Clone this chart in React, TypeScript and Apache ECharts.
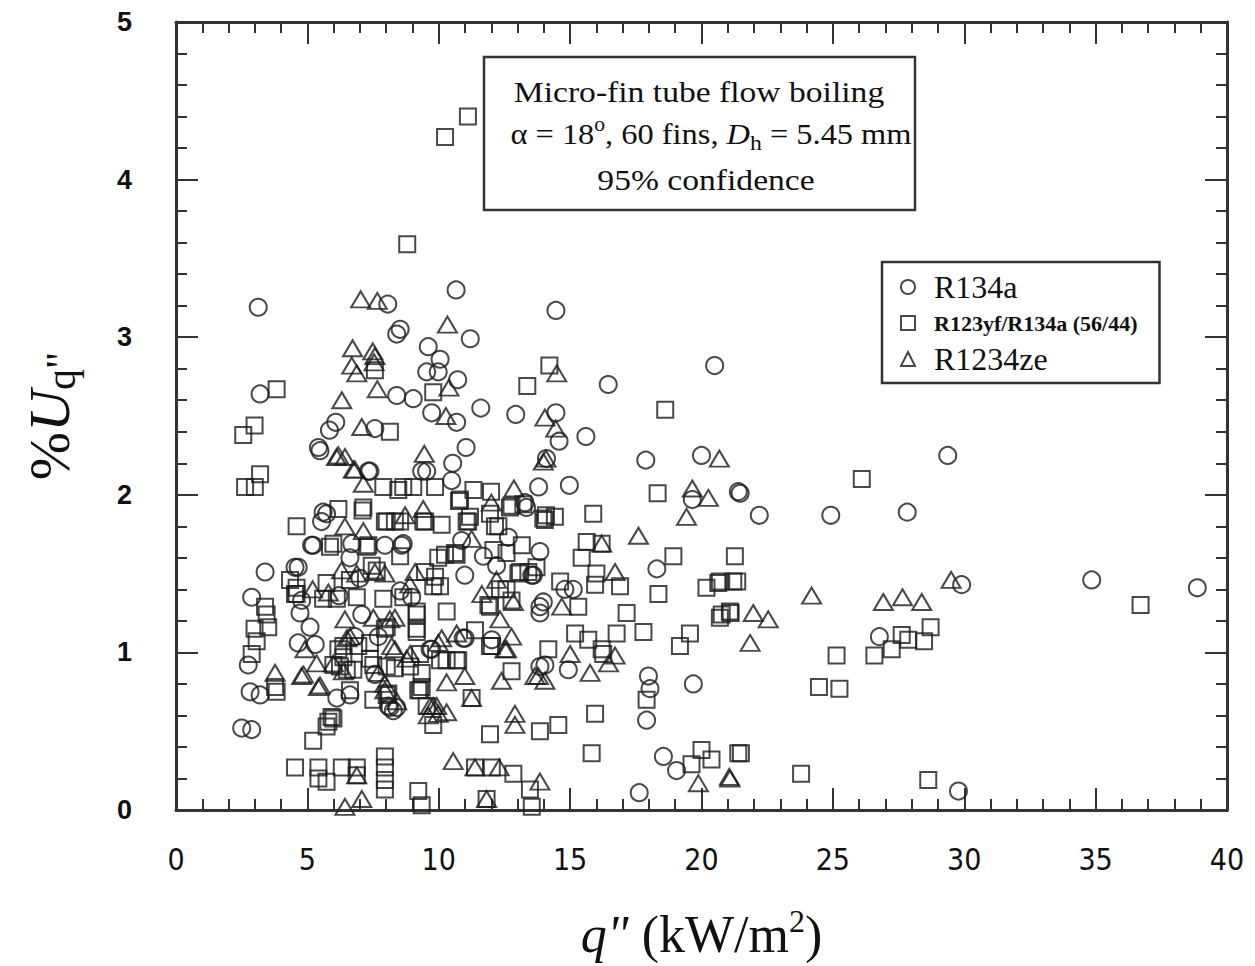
import React, { useEffect, useRef } from "react";
import * as echarts from "echarts";

const xTicks = [0, 5, 10, 15, 20, 25, 30, 35, 40];
const yTicks = [0, 1, 2, 3, 4, 5];

const seriesNames = ["R134a", "R123yf/R134a (56/44)", "R1234ze"];

const r134aPoints = [
  [3.13, 3.19], [3.2, 2.64], [3.39, 1.51], [2.88, 1.35], [2.75, 0.92], [2.82, 0.75], [3.2, 0.73], [2.5, 0.52], [2.88, 0.51],
  [8.06, 3.21], [8.4, 3.02], [8.53, 3.05], [10.66, 3.3], [11.2, 2.99], [14.46, 3.17], [20.5, 2.82], [16.45, 2.7], [11.6, 2.55],
  [12.93, 2.51], [14.46, 2.52], [14.58, 2.34], [15.6, 2.37], [10.72, 2.73], [10.05, 2.86], [10.68, 2.46], [11.04, 2.3],
  [10.53, 2.2], [10.49, 2.09], [13.8, 2.05], [14.97, 2.06], [14.1, 2.23], [17.88, 2.22], [20.0, 2.25], [21.4, 2.02],
  [19.65, 1.97], [13.28, 1.95], [9.6, 2.94], [9.54, 2.78], [9.98, 2.78], [8.4, 2.63], [9.03, 2.61], [9.73, 2.52],
  [6.08, 2.46], [5.84, 2.41], [7.57, 2.42], [5.48, 2.28], [5.42, 2.3], [7.38, 2.15], [9.54, 2.15], [5.73, 1.88],
  [5.6, 1.89], [5.54, 1.83], [5.22, 1.68], [6.69, 1.69], [8.65, 1.69], [4.65, 1.54], [4.72, 1.25], [5.1, 1.16],
  [4.65, 1.06], [4.78, 1.33], [6.12, 0.71], [6.62, 0.73], [6.81, 1.1], [8.14, 0.65], [8.4, 0.65], [9.73, 1.02],
  [8.97, 1.35], [7.07, 1.24], [8.53, 1.39], [7.95, 1.68], [8.59, 1.68], [6.62, 1.6], [9.35, 2.15], [7.57, 0.86],
  [8.08, 0.66], [8.27, 0.63], [18.3, 1.53], [17.98, 0.85], [18.04, 0.77], [17.91, 0.57], [19.69, 0.8], [18.55, 0.34],
  [19.05, 0.25], [17.63, 0.11], [14.93, 0.89], [14.04, 0.92], [13.85, 1.29], [13.98, 1.32], [14.8, 1.4], [15.12, 1.4],
  [13.85, 1.64], [13.6, 1.49], [11.7, 1.61], [10.99, 1.49], [11.0, 1.09], [12.02, 1.08], [12.65, 1.73], [10.87, 1.71],
  [12.2, 1.55], [13.54, 1.49], [13.85, 1.25], [10.93, 1.09], [9.67, 1.02], [13.85, 0.91], [13.34, 1.92], [29.37, 2.25],
  [21.47, 2.01], [22.2, 1.87], [24.92, 1.87], [27.83, 1.89], [29.9, 1.43], [34.85, 1.46], [38.87, 1.41], [26.77, 1.1],
  [29.78, 0.12], [7.32, 2.15], [5.16, 1.68], [4.53, 1.54], [7.0, 1.47], [6.2, 1.36], [5.3, 1.05], [7.7, 1.1],
];

const blendPoints = [
  [8.8, 3.59], [10.24, 4.27], [11.11, 4.4], [14.21, 2.82], [13.37, 2.69], [18.62, 2.54], [18.33, 2.01], [11.32, 2.03],
  [11.99, 2.02], [10.77, 1.96], [12.77, 1.93], [15.88, 1.88], [14.08, 1.87], [11.19, 1.86], [7.57, 2.79], [3.83, 2.67],
  [9.79, 2.65], [2.99, 2.44], [2.56, 2.38], [8.14, 2.4], [2.63, 2.05], [3.0, 2.05], [3.2, 2.13], [9.86, 2.05],
  [7.89, 2.05], [8.65, 2.05], [6.18, 1.91], [7.13, 1.92], [4.59, 1.8], [7.1, 1.9], [7.26, 1.67], [5.86, 1.67],
  [8.02, 1.83], [8.53, 1.83], [9.48, 1.83], [4.34, 1.46], [4.59, 1.37], [3.39, 1.29], [3.45, 1.24], [3.51, 1.16],
  [2.99, 1.15], [3.07, 1.07], [2.88, 0.99], [3.77, 0.78], [3.83, 0.75], [5.22, 0.44], [5.73, 0.53], [5.99, 0.58],
  [4.53, 0.27], [5.42, 0.27], [5.42, 0.2], [5.73, 0.18], [6.31, 0.27], [6.88, 0.27], [6.88, 0.22], [7.95, 0.34],
  [7.95, 0.27], [7.95, 0.19], [7.95, 0.13], [9.22, 0.12], [9.35, 0.03], [6.37, 0.97], [6.24, 0.91], [7.51, 0.92],
  [8.08, 0.74], [7.51, 0.7], [9.29, 0.76], [9.79, 0.54], [8.02, 0.91], [8.91, 0.91], [4.59, 1.41], [5.6, 1.34],
  [6.12, 1.34], [6.88, 1.35], [7.89, 1.34], [8.65, 1.35], [9.79, 1.42], [5.73, 1.44], [6.62, 1.46], [6.37, 1.04],
  [6.94, 1.04], [7.38, 1.06], [9.29, 0.99], [7.64, 1.52], [8.02, 1.16], [9.16, 1.15], [9.16, 1.24], [14.42, 1.86],
  [14.04, 1.84], [18.93, 1.61], [21.27, 1.61], [18.36, 1.37], [20.19, 1.41], [20.64, 1.44], [21.21, 1.45], [20.77, 1.24],
  [21.08, 1.26], [19.56, 1.12], [19.18, 1.04], [17.91, 0.7], [15.95, 0.61], [15.82, 0.36], [19.62, 0.29], [20.0, 0.38],
  [20.38, 0.32], [21.4, 0.36], [15.63, 1.7], [15.44, 1.6], [16.2, 1.69], [16.0, 1.5], [16.9, 1.42], [15.95, 1.43],
  [15.31, 1.29], [17.15, 1.25], [17.79, 1.13], [16.77, 1.12], [15.19, 1.12], [15.69, 1.08], [16.2, 1.02], [16.26, 0.99],
  [14.17, 1.02], [12.77, 0.88], [14.62, 1.45], [13.41, 1.51], [13.03, 1.5], [13.16, 1.68], [12.58, 1.63], [12.08, 1.65],
  [12.14, 1.8], [11.12, 1.83], [10.62, 1.63], [11.95, 1.29], [12.58, 1.4], [12.77, 1.33], [11.38, 1.14], [12.02, 1.04],
  [10.05, 0.95], [10.68, 0.95], [11.25, 0.71], [11.95, 0.48], [13.85, 0.5], [14.55, 0.54], [11.38, 0.27], [12.02, 0.27],
  [12.84, 0.23], [13.47, 0.13], [13.54, 0.02], [11.82, 0.07], [26.1, 2.1], [21.36, 1.45], [20.7, 1.45], [36.71, 1.3],
  [21.11, 1.25], [20.7, 1.22], [27.62, 1.11], [27.87, 1.08], [28.47, 1.07], [28.72, 1.16], [27.24, 1.02], [26.58, 0.98],
  [25.14, 0.98], [24.47, 0.78], [25.25, 0.77], [21.5, 0.36], [23.79, 0.23], [28.63, 0.19], [8.46, 2.03], [9.03, 2.05],
  [7.95, 1.83], [8.33, 1.83], [5.99, 1.69], [7.32, 1.68], [8.53, 1.61], [9.98, 1.6], [7.45, 1.55], [9.48, 1.51],
  [4.53, 1.37], [9.16, 1.13], [7.95, 1.15], [9.16, 1.26], [6.18, 1.02], [5.99, 0.92], [6.5, 0.89], [6.75, 0.89],
  [7.38, 0.96], [8.33, 0.9], [9.35, 0.87], [9.35, 0.78], [6.62, 0.76], [8.02, 0.73], [9.22, 0.76], [5.92, 0.59],
  [5.8, 0.56], [10.81, 1.97], [12.71, 1.92], [13.22, 1.94], [13.98, 1.85], [11.95, 1.88], [9.41, 1.83], [10.11, 1.81],
  [11.06, 1.83], [12.27, 1.8], [10.24, 1.62], [10.68, 1.62], [13.72, 1.54], [13.09, 1.51], [9.86, 1.48], [10.05, 1.42],
  [12.33, 1.4], [11.89, 1.3], [10.3, 1.26], [11.95, 1.04], [10.3, 0.95], [10.74, 0.95], [9.54, 0.66],
];

const r1234zePoints = [
  [10.33, 3.08], [14.49, 2.77], [14.04, 2.49], [14.45, 2.42], [14.08, 2.23], [20.68, 2.23], [12.86, 2.04], [19.65, 2.04],
  [20.26, 1.98], [10.39, 2.68], [10.27, 2.5], [12.0, 1.95], [19.43, 1.86], [7.03, 3.24], [7.66, 3.23], [6.72, 2.93],
  [7.49, 2.91], [7.57, 2.88], [7.54, 2.84], [6.69, 2.82], [6.88, 2.77], [6.31, 2.6], [7.66, 2.67], [7.07, 2.43],
  [6.11, 2.24], [6.18, 2.25], [6.43, 2.24], [9.45, 2.26], [6.81, 2.16], [7.13, 2.07], [6.75, 2.16], [6.43, 1.8],
  [7.13, 1.77], [8.72, 1.87], [3.77, 0.87], [4.85, 0.86], [5.35, 0.93], [5.48, 0.79], [6.43, 0.02], [7.07, 0.07],
  [6.88, 0.22], [6.43, 1.21], [6.62, 1.1], [5.99, 0.93], [6.37, 0.88], [7.7, 0.87], [8.4, 0.69], [9.6, 0.6],
  [9.98, 0.61], [8.33, 1.02], [8.91, 0.99], [6.88, 1.5], [7.51, 1.22], [8.14, 1.21], [9.41, 1.91], [7.57, 1.51],
  [7.95, 1.5], [9.1, 1.51], [8.33, 1.22], [4.91, 1.02], [4.78, 0.85], [5.42, 0.78], [6.5, 1.09], [8.21, 1.04],
  [8.78, 0.96], [9.98, 1.06], [7.95, 0.8], [7.95, 0.76], [9.67, 0.66], [9.92, 0.66], [17.6, 1.74], [16.2, 1.69],
  [16.71, 1.51], [16.71, 0.98], [15.0, 0.99], [15.76, 0.87], [16.46, 0.93], [13.66, 0.85], [14.04, 0.82], [12.39, 0.82],
  [14.68, 1.29], [11.64, 1.37], [12.33, 1.21], [12.77, 1.1], [12.58, 1.02], [10.3, 0.81], [10.99, 0.85], [11.25, 0.71],
  [12.9, 0.61], [12.9, 0.54], [10.55, 0.31], [11.38, 0.27], [13.85, 0.18], [11.82, 0.07], [19.88, 0.17], [21.08, 0.2],
  [24.19, 1.36], [26.92, 1.32], [27.65, 1.35], [28.38, 1.32], [29.5, 1.46], [21.97, 1.25], [22.54, 1.21], [21.85, 1.06],
  [21.06, 0.21], [13.98, 2.21], [12.84, 1.32], [12.2, 1.46], [11.25, 1.72], [10.11, 1.09], [10.68, 1.12], [12.52, 1.02],
  [10.3, 0.62], [13.79, 0.85], [9.79, 0.66], [5.8, 1.38], [6.3, 1.52], [12.3, 0.27], [5.2, 1.4], [8.9, 1.43],
];

const FRAME = "#333333";
const INK = "#1c1c1c";
const SERIF = "'Liberation Serif', 'Times New Roman', serif";

export default function App() {
  const ref = useRef<HTMLDivElement>(null);

  useEffect(() => {
    document.body.style.margin = "0";
    document.body.style.overflow = "hidden";
    if (!ref.current) return;
    const chart = echarts.init(ref.current, null, { renderer: "svg" });

    const axisCommon = (min: number, max: number, interval: number) => ({
      type: "value" as const,
      min,
      max,
      interval,
      splitLine: { show: false },
      axisLine: { show: true, onZero: false, lineStyle: { color: FRAME, width: 3 } },
      axisTick: { show: true, inside: true, length: 22, lineStyle: { color: FRAME, width: 2 } },
      minorTick: { show: true, splitNumber: 5, length: 11, lineStyle: { color: FRAME, width: 2 } },
      minorSplitLine: { show: false },
    });

    const itemStyle = { color: "rgba(0,0,0,0)", borderColor: INK, borderWidth: 2 };

    chart.setOption({
      animation: false,
      backgroundColor: "#ffffff",
      grid: { left: 176, right: 28, top: 22, bottom: 156, outerBoundsMode: "none" },
      xAxis: [
        {
          ...axisCommon(0, 40, 5),
          position: "bottom",
          axisLabel: {
            show: true,
            margin: 34,
            fontFamily: "'Liberation Sans Narrow', 'DejaVu Sans Condensed', 'Liberation Sans', sans-serif",
            fontSize: 30,
            color: "#111",
            formatter: (v: number) => (xTicks.includes(v) ? String(v) : ""),
          },
          name: '{q|q"}{t| (kW/m}{s|2}{t|)}',
          nameLocation: "middle",
          nameGap: 95,
          nameTextStyle: {
            rich: {
              q: { fontFamily: SERIF, fontStyle: "italic", fontSize: 52, color: "#111", lineHeight: 58 },
              t: { fontFamily: SERIF, fontSize: 52, color: "#111", lineHeight: 58 },
              s: { fontFamily: SERIF, fontSize: 32, color: "#111", verticalAlign: "top", lineHeight: 34 },
            },
          },
        },
        {
          ...axisCommon(0, 40, 5),
          position: "top",
          axisLabel: { show: false },
        },
      ],
      yAxis: [
        {
          ...axisCommon(0, 5, 1),
          position: "left",
          axisLabel: {
            show: true,
            margin: 44,
            fontFamily: "'Liberation Sans', Arial, sans-serif",
            fontWeight: "bold",
            fontSize: 27,
            color: "#111",
            formatter: (v: number) => (yTicks.includes(v) ? String(v) : ""),
          },
          name: '{p|%}{u|U}{q|q"}',
          nameLocation: "middle",
          nameRotate: 90,
          nameGap: 94,
          nameTextStyle: {
            rich: {
              p: { fontFamily: SERIF, fontSize: 58, color: "#111", lineHeight: 66 },
              u: { fontFamily: SERIF, fontStyle: "italic", fontSize: 58, color: "#111", lineHeight: 66 },
              q: { fontFamily: SERIF, fontSize: 42, color: "#111", verticalAlign: "bottom", lineHeight: 44 },
            },
          },
        },
        {
          ...axisCommon(0, 5, 1),
          position: "right",
          axisLabel: { show: false },
        },
      ],
      legend: {
        show: true,
        orient: "vertical",
        left: 882,
        top: 262,
        borderColor: FRAME,
        borderWidth: 2.5,
        borderRadius: 0,
        padding: [8, 22, 7, 18],
        itemGap: 2,
        itemWidth: 14,
        itemHeight: 14,
        backgroundColor: "#fff",
        data: [
          { name: seriesNames[0], textStyle: { fontFamily: SERIF, fontSize: 32, lineHeight: 34, padding: [0, 0, 0, 14], color: "#111" } },
          { name: seriesNames[1], textStyle: { fontFamily: SERIF, fontSize: 22, lineHeight: 34, fontWeight: "bold", padding: [0, 0, 0, 14], color: "#111" } },
          { name: seriesNames[2], textStyle: { fontFamily: SERIF, fontSize: 32, lineHeight: 34, padding: [0, 0, 0, 14], color: "#111" } },
        ],
      },
      graphic: [
        {
          type: "rect",
          shape: { x: 484, y: 57, width: 431, height: 153 },
          style: { fill: "#fff", stroke: FRAME, lineWidth: 2.5 },
          z: 10,
        },
        {
          type: "text",
          x: 699,
          y: 92,
          scaleX: 1.12,
          z: 11,
          style: { text: "Micro-fin tube flow boiling", font: `30px ${SERIF}`, fill: "#111", align: "center", verticalAlign: "middle" },
        },
        {
          type: "text",
          x: 711,
          y: 134,
          scaleX: 1.08,
          z: 11,
          style: {
            text: "{n|α = 18}{s|o}{n|, 60 fins, }{i|D}{b|h}{n| = 5.45 mm}",
            align: "center",
            verticalAlign: "middle",
            rich: {
              n: { fontFamily: SERIF, fontSize: 30, fill: "#111", lineHeight: 40 },
              i: { fontFamily: SERIF, fontStyle: "italic", fontSize: 30, fill: "#111", lineHeight: 40 },
              s: { fontFamily: SERIF, fontSize: 20, fill: "#111", verticalAlign: "top", lineHeight: 22 },
              b: { fontFamily: SERIF, fontSize: 22, fill: "#111", verticalAlign: "bottom", lineHeight: 26 },
            },
          },
        },
        {
          type: "text",
          x: 706,
          y: 180,
          scaleX: 1.12,
          z: 11,
          style: { text: "95% confidence", font: `30px ${SERIF}`, fill: "#111", align: "center", verticalAlign: "middle" },
        },
      ],
      series: [
        {
          name: seriesNames[0],
          type: "scatter",
          symbol: "circle",
          symbolSize: 17,
          itemStyle,
          data: r134aPoints,
        },
        {
          name: seriesNames[1],
          type: "scatter",
          symbol: "rect",
          symbolSize: 16,
          itemStyle,
          data: blendPoints,
        },
        {
          name: seriesNames[2],
          type: "scatter",
          symbol: "triangle",
          symbolSize: [19, 16],
          itemStyle,
          data: r1234zePoints,
        },
      ],
    });

    return () => chart.dispose();
  }, []);

  return <div ref={ref} style={{ width: 1255, height: 966 }} />;
}
